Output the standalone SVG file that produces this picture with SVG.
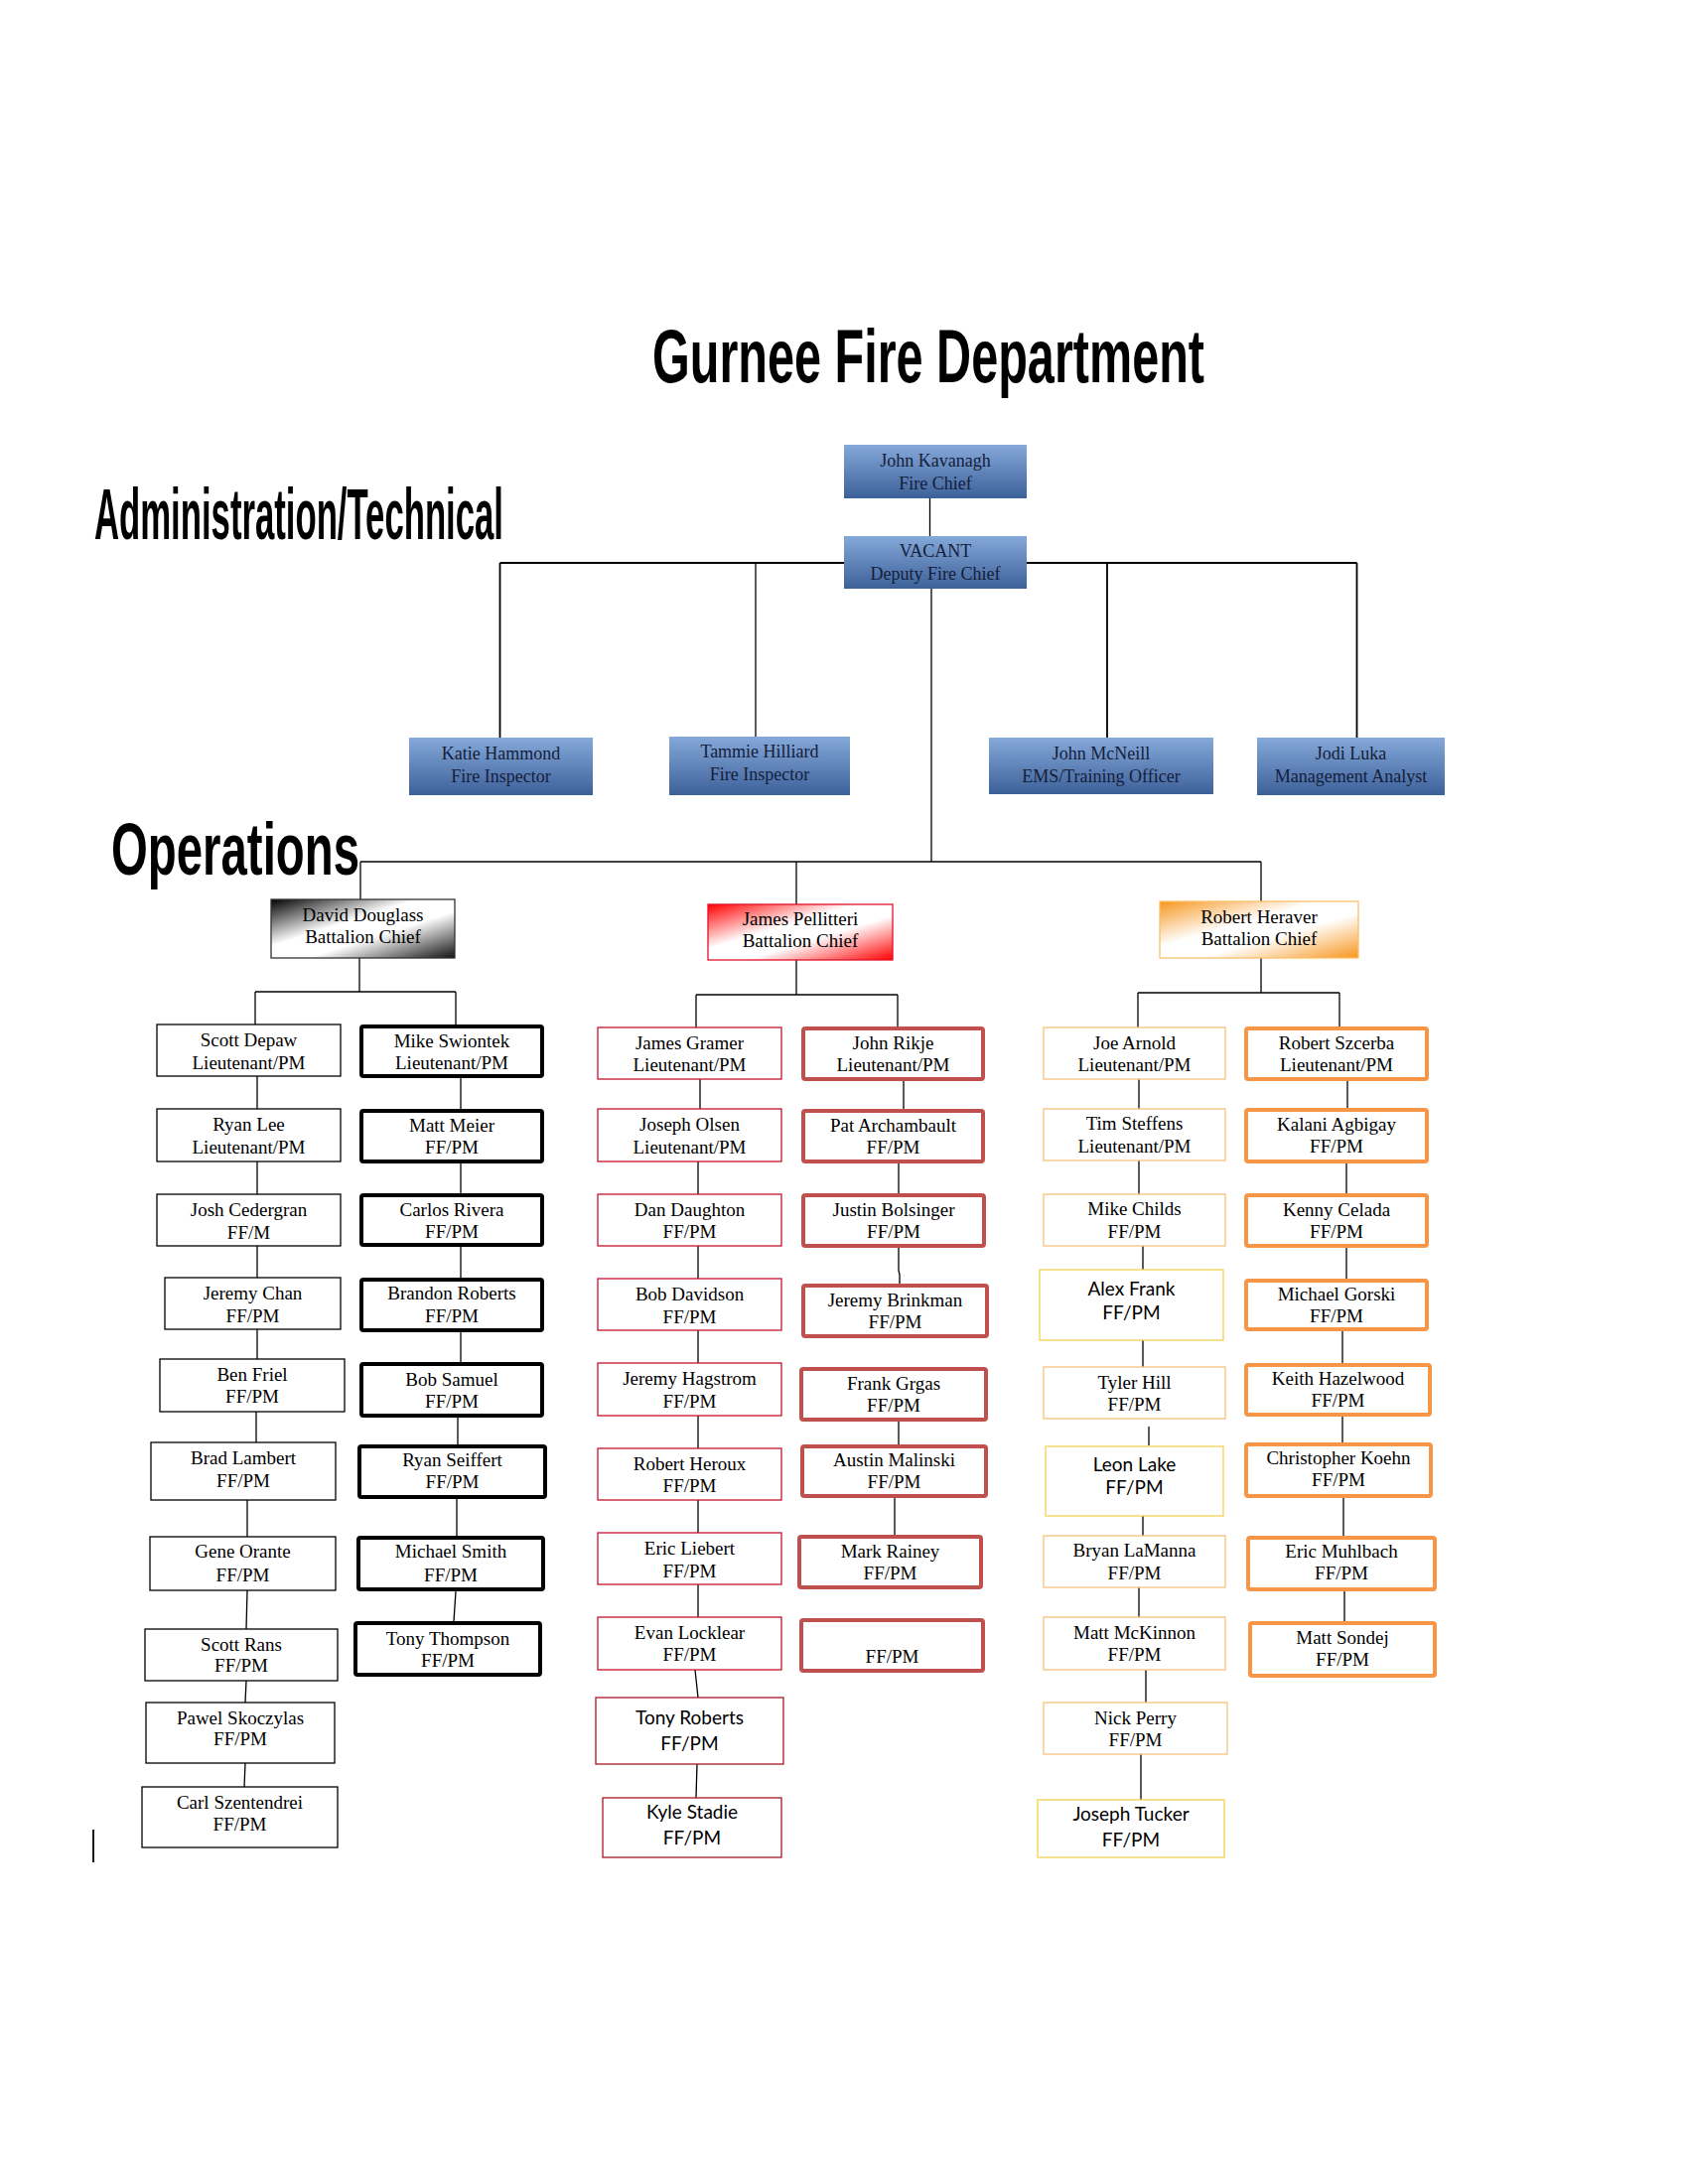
<svg xmlns="http://www.w3.org/2000/svg" width="1701" height="2200" viewBox="0 0 1701 2200">
<style>
.h{font-family:"Liberation Sans Narrow","Arial Narrow","Liberation Sans",sans-serif;font-weight:bold;fill:#000}
.t{font-family:"Liberation Serif","Times New Roman",serif;font-size:19px;text-anchor:middle;fill:#000}
.s{font-family:Lato,"Open Sans",sans-serif;font-size:19px;text-anchor:middle;fill:#000}
.bt{fill:#14203a;font-size:18px}
.blue{fill:url(#gBlue);stroke:none}
.bk{fill:#fff;stroke:#000;stroke-width:1.3}
.bK{fill:#fff;stroke:#000;stroke-width:4}
.rd{fill:#fff;stroke:#c4152f;stroke-width:1.3}
.rD{fill:#fff;stroke:#c0504d;stroke-width:4}
.or{fill:#fff;stroke:#f6c27a;stroke-width:1.3}
.oy{fill:#fff;stroke:#f5d150;stroke-width:1.3}
.oR{fill:#fff;stroke:#f79646;stroke-width:4}
#connectors line,#connectors path{stroke:#000;stroke-width:1.3;fill:none}
</style>
<defs>
<linearGradient id="gBlue" x1="0" y1="0" x2="0" y2="1"><stop offset="0" stop-color="#86a9da"/><stop offset="1" stop-color="#3c6099"/></linearGradient>
<linearGradient id="gBlack" x1="0" y1="0" x2="1" y2="1"><stop offset="0" stop-color="#000"/><stop offset="0.4" stop-color="#fff"/><stop offset="0.6" stop-color="#fff"/><stop offset="1" stop-color="#111"/></linearGradient>
<linearGradient id="gRed" x1="0" y1="0" x2="1" y2="1"><stop offset="0" stop-color="#ff0000"/><stop offset="0.4" stop-color="#fff"/><stop offset="0.6" stop-color="#fff"/><stop offset="1" stop-color="#ff0000"/></linearGradient>
<linearGradient id="gOrange" x1="0" y1="0" x2="1" y2="1"><stop offset="0" stop-color="#f7961e"/><stop offset="0.4" stop-color="#fff"/><stop offset="0.6" stop-color="#fff"/><stop offset="1" stop-color="#f7961e"/></linearGradient>
</defs>
<rect width="1701" height="2200" fill="#fff"/>

<text class="h" x="657" y="385" font-size="76" textLength="556" lengthAdjust="spacingAndGlyphs">Gurnee Fire Department</text>
<text class="h" x="95" y="543" font-size="72" textLength="412" lengthAdjust="spacingAndGlyphs">Administration/Technical</text>
<text class="h" x="112" y="881" font-size="74" textLength="250" lengthAdjust="spacingAndGlyphs">Operations</text>

<g id="connectors">
<line x1="936.5" y1="502" x2="936.5" y2="540"/>
<line x1="503.5" y1="567" x2="850" y2="567" style="stroke-width:1.8"/>
<line x1="1034" y1="567" x2="1366.5" y2="567" style="stroke-width:1.8"/>
<line x1="503.5" y1="567" x2="503.5" y2="743" style="stroke-width:1.8"/>
<line x1="761" y1="567" x2="761" y2="742"/>
<line x1="1115" y1="567" x2="1115" y2="743" style="stroke-width:1.8"/>
<line x1="1366.5" y1="567" x2="1366.5" y2="743" style="stroke-width:1.8"/>
<line x1="938" y1="593" x2="938" y2="868"/>
<line x1="363" y1="868" x2="1270" y2="868"/>
<line x1="363" y1="868" x2="363" y2="906"/>
<line x1="802" y1="868" x2="802" y2="911"/>
<line x1="1270" y1="868" x2="1270" y2="908"/>
<line x1="362" y1="965" x2="362" y2="999"/>
<line x1="257" y1="999" x2="459" y2="999"/>
<line x1="257" y1="999" x2="257" y2="1032"/>
<line x1="459" y1="999" x2="459" y2="1032"/>
<line x1="259" y1="1084" x2="259" y2="1117"/>
<line x1="259" y1="1170" x2="259" y2="1203"/>
<line x1="259" y1="1255" x2="259" y2="1287"/>
<line x1="259" y1="1339" x2="259" y2="1369"/>
<line x1="258" y1="1422" x2="258" y2="1453"/>
<line x1="249" y1="1511" x2="249" y2="1548"/>
<line x1="249" y1="1602" x2="248" y2="1641"/>
<line x1="248" y1="1693" x2="247" y2="1715"/>
<line x1="247" y1="1776" x2="246" y2="1800"/>
<line x1="464" y1="1086" x2="464" y2="1117"/>
<line x1="464" y1="1172" x2="464" y2="1202"/>
<line x1="464" y1="1256" x2="464" y2="1287"/>
<line x1="464" y1="1342" x2="464" y2="1372"/>
<line x1="461" y1="1428" x2="461" y2="1455"/>
<line x1="460" y1="1510" x2="460" y2="1547"/>
<line x1="459" y1="1603" x2="457" y2="1633"/>
<line x1="802" y1="967" x2="802" y2="1002"/>
<line x1="701" y1="1002" x2="904" y2="1002"/>
<line x1="701" y1="1002" x2="701" y2="1035"/>
<line x1="904" y1="1002" x2="904" y2="1034"/>
<line x1="705" y1="1087" x2="705" y2="1117"/>
<line x1="703" y1="1170" x2="703" y2="1203"/>
<line x1="703" y1="1255" x2="703" y2="1288"/>
<line x1="703" y1="1340" x2="703" y2="1373"/>
<line x1="703" y1="1426" x2="703" y2="1459"/>
<line x1="703" y1="1511" x2="703" y2="1544"/>
<line x1="703" y1="1596" x2="703" y2="1629"/>
<line x1="700" y1="1682" x2="703" y2="1710"/>
<line x1="702" y1="1777" x2="701" y2="1811"/>
<line x1="910" y1="1089" x2="910" y2="1117"/>
<line x1="905" y1="1172" x2="905" y2="1202"/>
<path d="M905,1257 V1280 L906,1284 V1293"/>
<line x1="905" y1="1432" x2="905" y2="1455"/>
<line x1="901" y1="1505" x2="901" y2="1546"/>
<line x1="1270" y1="965" x2="1270" y2="1000"/>
<line x1="1146" y1="1000" x2="1349" y2="1000"/>
<line x1="1146" y1="1000" x2="1146" y2="1035"/>
<line x1="1349" y1="1000" x2="1349" y2="1034"/>
<line x1="1147" y1="1087" x2="1147" y2="1117"/>
<line x1="1147" y1="1169" x2="1147" y2="1203"/>
<line x1="1151" y1="1255" x2="1151" y2="1279"/>
<line x1="1151" y1="1350" x2="1151" y2="1377"/>
<line x1="1157" y1="1437" x2="1157" y2="1456"/>
<line x1="1151" y1="1527" x2="1151" y2="1547"/>
<line x1="1147" y1="1599" x2="1147" y2="1629"/>
<line x1="1154" y1="1682" x2="1154" y2="1715"/>
<line x1="1149" y1="1767" x2="1149" y2="1813"/>
<line x1="1357" y1="1089" x2="1357" y2="1116"/>
<line x1="1356" y1="1172" x2="1356" y2="1202"/>
<line x1="1356" y1="1257" x2="1356" y2="1288"/>
<line x1="1352" y1="1341" x2="1352" y2="1373"/>
<line x1="1352" y1="1427" x2="1352" y2="1453"/>
<line x1="1353" y1="1509" x2="1353" y2="1547"/>
<line x1="1354" y1="1603" x2="1354" y2="1633"/>
<line x1="94" y1="1843" x2="94" y2="1876" style="stroke-width:1.8"/>
</g>

<!-- Admin -->
<g id="chief"><rect class="blue" x="850" y="448" width="184" height="54"/><text class="t bt" x="942" y="470">John Kavanagh</text><text class="t bt" x="942" y="493">Fire Chief</text></g>
<g id="deputy"><rect class="blue" x="850" y="540" width="184" height="53"/><text class="t bt" x="942" y="561">VACANT</text><text class="t bt" x="942" y="584">Deputy Fire Chief</text></g>
<g id="katie"><rect class="blue" x="412" y="743" width="185" height="58"/><text class="t bt" x="504.5" y="765">Katie Hammond</text><text class="t bt" x="504.5" y="788">Fire Inspector</text></g>
<g id="tammie"><rect class="blue" x="674" y="742" width="182" height="59"/><text class="t bt" x="765" y="763">Tammie Hilliard</text><text class="t bt" x="765" y="786">Fire Inspector</text></g>
<g id="mcneill"><rect class="blue" x="996" y="743" width="226" height="57"/><text class="t bt" x="1109" y="765">John McNeill</text><text class="t bt" x="1109" y="788">EMS/Training Officer</text></g>
<g id="jodi"><rect class="blue" x="1266" y="743" width="189" height="58"/><text class="t bt" x="1360.5" y="765">Jodi Luka</text><text class="t bt" x="1360.5" y="788">Management Analyst</text></g>

<!-- Battalion chiefs -->
<g id="douglass"><rect x="273" y="906" width="185" height="59" fill="url(#gBlack)" stroke="#333" stroke-width="1.3"/><text class="t" x="365.5" y="928">David Douglass</text><text class="t" x="365.5" y="950">Battalion Chief</text></g>
<g id="pellitteri"><rect x="713" y="911" width="186" height="56" fill="url(#gRed)" stroke="#e0102a" stroke-width="1.3"/><text class="t" x="806" y="932">James Pellitteri</text><text class="t" x="806" y="954">Battalion Chief</text></g>
<g id="heraver"><rect x="1168" y="908" width="200" height="57" fill="url(#gOrange)" stroke="#f9c16a" stroke-width="1.3"/><text class="t" x="1268" y="930">Robert Heraver</text><text class="t" x="1268" y="952">Battalion Chief</text></g>

<!-- Column A -->
<g id="depaw"><rect class="bk" x="158" y="1032" width="185" height="52"/><text class="t" x="250.5" y="1054">Scott Depaw</text><text class="t" x="250.5" y="1077">Lieutenant/PM</text></g>
<g id="lee"><rect class="bk" x="158" y="1117" width="185" height="53"/><text class="t" x="250.5" y="1139">Ryan Lee</text><text class="t" x="250.5" y="1162">Lieutenant/PM</text></g>
<g id="cedergran"><rect class="bk" x="158" y="1203" width="185" height="52"/><text class="t" x="250.5" y="1225">Josh Cedergran</text><text class="t" x="250.5" y="1248">FF/M</text></g>
<g id="chan"><rect class="bk" x="166" y="1287" width="177" height="52"/><text class="t" x="254.5" y="1309">Jeremy Chan</text><text class="t" x="254.5" y="1332">FF/PM</text></g>
<g id="friel"><rect class="bk" x="161" y="1369" width="186" height="53"/><text class="t" x="254" y="1391">Ben Friel</text><text class="t" x="254" y="1413">FF/PM</text></g>
<g id="lambert"><rect class="bk" x="152" y="1453" width="186" height="58"/><text class="t" x="245" y="1475">Brad Lambert</text><text class="t" x="245" y="1498">FF/PM</text></g>
<g id="orante"><rect class="bk" x="151" y="1548" width="187" height="54"/><text class="t" x="244.5" y="1569">Gene Orante</text><text class="t" x="244.5" y="1593">FF/PM</text></g>
<g id="rans"><rect class="bk" x="146" y="1641" width="194" height="52"/><text class="t" x="243" y="1663">Scott Rans</text><text class="t" x="243" y="1684">FF/PM</text></g>
<g id="skoczylas"><rect class="bk" x="147" y="1715" width="190" height="61"/><text class="t" x="242" y="1737">Pawel Skoczylas</text><text class="t" x="242" y="1758">FF/PM</text></g>
<g id="szentendrei"><rect class="bk" x="143" y="1800" width="197" height="61"/><text class="t" x="241.5" y="1822">Carl Szentendrei</text><text class="t" x="241.5" y="1844">FF/PM</text></g>

<!-- Column B -->
<g id="swiontek"><rect class="bK" x="364" y="1034" width="182" height="50" rx="2"/><text class="t" x="455" y="1055">Mike Swiontek</text><text class="t" x="455" y="1077">Lieutenant/PM</text></g>
<g id="meier"><rect class="bK" x="364" y="1119" width="182" height="51" rx="2"/><text class="t" x="455" y="1140">Matt Meier</text><text class="t" x="455" y="1162">FF/PM</text></g>
<g id="rivera"><rect class="bK" x="364" y="1204" width="182" height="50" rx="2"/><text class="t" x="455" y="1225">Carlos Rivera</text><text class="t" x="455" y="1247">FF/PM</text></g>
<g id="broberts"><rect class="bK" x="364" y="1289" width="182" height="51" rx="2"/><text class="t" x="455" y="1309">Brandon Roberts</text><text class="t" x="455" y="1332">FF/PM</text></g>
<g id="samuel"><rect class="bK" x="364" y="1374" width="182" height="52" rx="2"/><text class="t" x="455" y="1396">Bob Samuel</text><text class="t" x="455" y="1418">FF/PM</text></g>
<g id="seiffert"><rect class="bK" x="362" y="1457" width="187" height="51" rx="2"/><text class="t" x="455.5" y="1477">Ryan Seiffert</text><text class="t" x="455.5" y="1499">FF/PM</text></g>
<g id="smith"><rect class="bK" x="361" y="1549" width="186" height="52" rx="2"/><text class="t" x="454" y="1569">Michael Smith</text><text class="t" x="454" y="1593">FF/PM</text></g>
<g id="thompson"><rect class="bK" x="358" y="1635" width="186" height="52" rx="2"/><text class="t" x="451" y="1657">Tony Thompson</text><text class="t" x="451" y="1679">FF/PM</text></g>

<!-- Column C -->
<g id="gramer"><rect class="rd" x="602" y="1035" width="185" height="52"/><text class="t" x="694.5" y="1057">James Gramer</text><text class="t" x="694.5" y="1079">Lieutenant/PM</text></g>
<g id="olsen"><rect class="rd" x="602" y="1117" width="185" height="53"/><text class="t" x="694.5" y="1139">Joseph Olsen</text><text class="t" x="694.5" y="1162">Lieutenant/PM</text></g>
<g id="daughton"><rect class="rd" x="602" y="1203" width="185" height="52"/><text class="t" x="694.5" y="1225">Dan Daughton</text><text class="t" x="694.5" y="1247">FF/PM</text></g>
<g id="davidson"><rect class="rd" x="602" y="1288" width="185" height="52"/><text class="t" x="694.5" y="1310">Bob Davidson</text><text class="t" x="694.5" y="1333">FF/PM</text></g>
<g id="hagstrom"><rect class="rd" x="602" y="1373" width="185" height="53"/><text class="t" x="694.5" y="1395">Jeremy Hagstrom</text><text class="t" x="694.5" y="1418">FF/PM</text></g>
<g id="heroux"><rect class="rd" x="602" y="1459" width="185" height="52"/><text class="t" x="694.5" y="1481">Robert Heroux</text><text class="t" x="694.5" y="1503">FF/PM</text></g>
<g id="liebert"><rect class="rd" x="602" y="1544" width="185" height="52"/><text class="t" x="694.5" y="1566">Eric Liebert</text><text class="t" x="694.5" y="1589">FF/PM</text></g>
<g id="locklear"><rect class="rd" x="602" y="1629" width="185" height="53"/><text class="t" x="694.5" y="1651">Evan Locklear</text><text class="t" x="694.5" y="1673">FF/PM</text></g>
<g id="troberts"><rect class="rd" x="600" y="1710" width="189" height="67" style="stroke:#a8182a"/><text class="s" x="694.5" y="1737">Tony Roberts</text><text class="s" x="694.5" y="1763">FF/PM</text></g>
<g id="stadie"><rect class="rd" x="607" y="1811" width="180" height="60" style="stroke:#a8182a"/><text class="s" x="697" y="1832">Kyle Stadie</text><text class="s" x="697" y="1858">FF/PM</text></g>

<!-- Column D -->
<g id="rikje"><rect class="rD" x="809" y="1036" width="181" height="51" rx="2"/><text class="t" x="899.5" y="1057">John Rikje</text><text class="t" x="899.5" y="1079">Lieutenant/PM</text></g>
<g id="archambault"><rect class="rD" x="809" y="1119" width="181" height="51" rx="2"/><text class="t" x="899.5" y="1140">Pat Archambault</text><text class="t" x="899.5" y="1162">FF/PM</text></g>
<g id="bolsinger"><rect class="rD" x="809" y="1204" width="182" height="51" rx="2"/><text class="t" x="900" y="1225">Justin Bolsinger</text><text class="t" x="900" y="1247">FF/PM</text></g>
<g id="brinkman"><rect class="rD" x="809" y="1295" width="185" height="51" rx="2"/><text class="t" x="901.5" y="1316">Jeremy Brinkman</text><text class="t" x="901.5" y="1338">FF/PM</text></g>
<g id="grgas"><rect class="rD" x="807" y="1379" width="186" height="51" rx="2"/><text class="t" x="900" y="1400">Frank Grgas</text><text class="t" x="900" y="1422">FF/PM</text></g>
<g id="malinski"><rect class="rD" x="808" y="1457" width="185" height="50" rx="2"/><text class="t" x="900.5" y="1477">Austin Malinski</text><text class="t" x="900.5" y="1499">FF/PM</text></g>
<g id="rainey"><rect class="rD" x="805" y="1548" width="183" height="51" rx="2"/><text class="t" x="896.5" y="1569">Mark Rainey</text><text class="t" x="896.5" y="1591">FF/PM</text></g>
<g id="vacantff"><rect class="rD" x="807" y="1632" width="183" height="51" rx="2"/><text class="t" x="898.5" y="1675">FF/PM</text></g>

<!-- Column E -->
<g id="arnold"><rect class="or" x="1051" y="1035" width="183" height="52"/><text class="t" x="1142.5" y="1057">Joe Arnold</text><text class="t" x="1142.5" y="1079">Lieutenant/PM</text></g>
<g id="steffens"><rect class="or" x="1051" y="1117" width="183" height="52"/><text class="t" x="1142.5" y="1138">Tim Steffens</text><text class="t" x="1142.5" y="1161">Lieutenant/PM</text></g>
<g id="childs"><rect class="or" x="1051" y="1203" width="183" height="52"/><text class="t" x="1142.5" y="1224">Mike Childs</text><text class="t" x="1142.5" y="1247">FF/PM</text></g>
<g id="frank"><rect class="oy" x="1047" y="1279" width="185" height="71"/><text class="s" x="1139.5" y="1305">Alex Frank</text><text class="s" x="1139.5" y="1329">FF/PM</text></g>
<g id="hill"><rect class="or" x="1051" y="1377" width="183" height="52"/><text class="t" x="1142.5" y="1399">Tyler Hill</text><text class="t" x="1142.5" y="1421">FF/PM</text></g>
<g id="lake"><rect class="oy" x="1053" y="1457" width="179" height="70"/><text class="s" x="1142.5" y="1482">Leon Lake</text><text class="s" x="1142.5" y="1505">FF/PM</text></g>
<g id="lamanna"><rect class="or" x="1051" y="1547" width="183" height="52"/><text class="t" x="1142.5" y="1568">Bryan LaManna</text><text class="t" x="1142.5" y="1591">FF/PM</text></g>
<g id="mckinnon"><rect class="or" x="1051" y="1629" width="183" height="53"/><text class="t" x="1142.5" y="1651">Matt McKinnon</text><text class="t" x="1142.5" y="1673">FF/PM</text></g>
<g id="perry"><rect class="or" x="1051" y="1715" width="185" height="52"/><text class="t" x="1143.5" y="1737">Nick Perry</text><text class="t" x="1143.5" y="1759">FF/PM</text></g>
<g id="tucker"><rect class="oy" x="1045" y="1813" width="188" height="58"/><text class="s" x="1139" y="1834">Joseph Tucker</text><text class="s" x="1139" y="1860">FF/PM</text></g>

<!-- Column F -->
<g id="szcerba"><rect class="oR" x="1255" y="1036" width="182" height="51" rx="2"/><text class="t" x="1346" y="1057">Robert Szcerba</text><text class="t" x="1346" y="1079">Lieutenant/PM</text></g>
<g id="agbigay"><rect class="oR" x="1255" y="1118" width="182" height="52" rx="2"/><text class="t" x="1346" y="1139">Kalani Agbigay</text><text class="t" x="1346" y="1161">FF/PM</text></g>
<g id="celada"><rect class="oR" x="1255" y="1204" width="182" height="51" rx="2"/><text class="t" x="1346" y="1225">Kenny Celada</text><text class="t" x="1346" y="1247">FF/PM</text></g>
<g id="gorski"><rect class="oR" x="1255" y="1290" width="182" height="49" rx="2"/><text class="t" x="1346" y="1310">Michael Gorski</text><text class="t" x="1346" y="1332">FF/PM</text></g>
<g id="hazelwood"><rect class="oR" x="1255" y="1375" width="185" height="50" rx="2"/><text class="t" x="1347.5" y="1395">Keith Hazelwood</text><text class="t" x="1347.5" y="1417">FF/PM</text></g>
<g id="koehn"><rect class="oR" x="1255" y="1455" width="186" height="52" rx="2"/><text class="t" x="1348" y="1475">Christopher Koehn</text><text class="t" x="1348" y="1497">FF/PM</text></g>
<g id="muhlbach"><rect class="oR" x="1257" y="1549" width="188" height="52" rx="2"/><text class="t" x="1351" y="1569">Eric Muhlbach</text><text class="t" x="1351" y="1591">FF/PM</text></g>
<g id="sondej"><rect class="oR" x="1259" y="1635" width="186" height="53" rx="2"/><text class="t" x="1352" y="1656">Matt Sondej</text><text class="t" x="1352" y="1678">FF/PM</text></g>
</svg>
